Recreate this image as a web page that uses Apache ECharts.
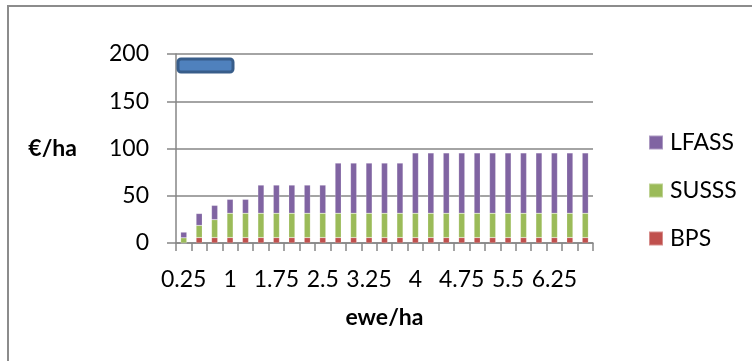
<!DOCTYPE html>
<html>
<head>
<meta charset="utf-8">
<script src="https://cdn.jsdelivr.net/npm/echarts@6/dist/echarts.min.js"></script>
<style>
  html, body { margin: 0; padding: 0; background: #fff; }
  #chart { width: 752px; height: 361px; }
</style>
</head>
<body>
<div id="chart"></div>
<script>
// Stocking density (ewes per hectare)
const categories = ['0.25','0.5','0.75','1','1.25','1.5','1.75','2','2.25','2.5','2.75','3','3.25','3.5','3.75','4','4.25','4.5','4.75','5','5.25','5.5','5.75','6','6.25','6.5','6.75'];

// Payments in €/ha per scheme
const bps   = [0, 5.7, 5.7, 5.7, 5.7, 5.7, 5.7, 5.7, 5.7, 5.7, 5.7, 5.7, 5.7, 5.7, 5.7, 5.7, 5.7, 5.7, 5.7, 5.7, 5.7, 5.7, 5.7, 5.7, 5.7, 5.7, 5.7];
const susss = [5.5, 12.9, 19, 25.8, 25.8, 25.8, 25.8, 25.8, 25.8, 25.8, 25.8, 25.8, 25.8, 25.8, 25.8, 25.8, 25.8, 25.8, 25.8, 25.8, 25.8, 25.8, 25.8, 25.8, 25.8, 25.8, 25.8];
const lfass = [6, 12.6, 15.1, 14.7, 14.7, 29.8, 29.8, 29.8, 29.8, 29.8, 53.1, 53.1, 53.1, 53.1, 53.1, 63.8, 63.8, 63.8, 63.8, 63.8, 63.8, 63.8, 63.8, 63.8, 63.8, 63.8, 63.8];

const yTicks = [0, 50, 100, 150, 200];

const FONT = 'Lato';
const FONT_SIZE = 23;
const GRID_GREY = '#868686';

const chart = echarts.init(document.getElementById('chart'), null, { renderer: 'canvas' });

const barSeries = (name, data, color) => ({
  name: name,
  type: 'bar',
  stack: 'pay',
  data: data,
  barWidth: '40%',
  itemStyle: { color: color, borderColor: 'rgba(255,255,255,0.35)', borderWidth: 0.5 },
  emphasis: { disabled: true }
});

chart.setOption({
  animation: false,
  backgroundColor: '#fff',
  textStyle: { fontFamily: FONT, color: '#000' },
  grid: { left: 176, right: 159, top: 54, bottom: 118, containLabel: false },
  legend: {
    orient: 'vertical',
    left: 643,
    top: 126,
    itemWidth: 14,
    itemHeight: 14,
    itemGap: 25,
    icon: 'rect',
    data: ['LFASS', 'SUSSS', 'BPS'],
    textStyle: { fontFamily: FONT, fontSize: FONT_SIZE, color: '#000', padding: [0, 0, 0, 2] }
  },
  xAxis: {
    type: 'category',
    data: categories,
    boundaryGap: true,
    name: 'ewe/ha',
    nameLocation: 'middle',
    nameGap: 63,
    nameTextStyle: { fontFamily: FONT, fontSize: FONT_SIZE, fontWeight: 'bold', color: '#000' },
    axisLine: { lineStyle: { color: GRID_GREY, width: 1.5 } },
    axisTick: { show: true, length: 8, interval: 0, alignWithLabel: false, lineStyle: { color: GRID_GREY, width: 1.5 } },
    axisLabel: { interval: 2, margin: 25, fontFamily: FONT, fontSize: FONT_SIZE, color: '#000' },
    splitLine: { show: false }
  },
  yAxis: {
    type: 'value',
    min: yTicks[0],
    max: yTicks[yTicks.length - 1],
    interval: 50,
    name: '€/ha',
    nameLocation: 'middle',
    nameRotate: 0,
    nameGap: 99,
    nameTextStyle: { fontFamily: FONT, fontSize: FONT_SIZE, fontWeight: 'bold', color: '#000', align: 'right' },
    axisLine: { show: true, lineStyle: { color: GRID_GREY, width: 1.5 } },
    axisTick: { show: true, length: 9, lineStyle: { color: GRID_GREY, width: 1.5 } },
    axisLabel: { margin: 27, fontFamily: FONT, fontSize: FONT_SIZE, color: '#000' },
    splitLine: { show: true, lineStyle: { color: GRID_GREY, width: 1.5 } }
  },
  series: [
    barSeries('BPS', bps, '#c0504d'),
    barSeries('SUSSS', susss, '#9bbb59'),
    barSeries('LFASS', lfass, '#8064a2')
  ],
  graphic: [
    // outer chart frame (top and left edges)
    { type: 'polyline', shape: { points: [[8, 361], [8, 6], [752, 6]] },
      style: { stroke: '#8c8c8c', lineWidth: 2, fill: null }, silent: true },
    // rounded blue shape in the upper-left of the plot
    { type: 'rect', shape: { x: 178, y: 59, width: 55, height: 13, r: 3 },
      style: { fill: '#4f81bd', stroke: '#385d8a', lineWidth: 3 }, silent: true, z: 10 }
  ]
});
</script>
</body>
</html>
